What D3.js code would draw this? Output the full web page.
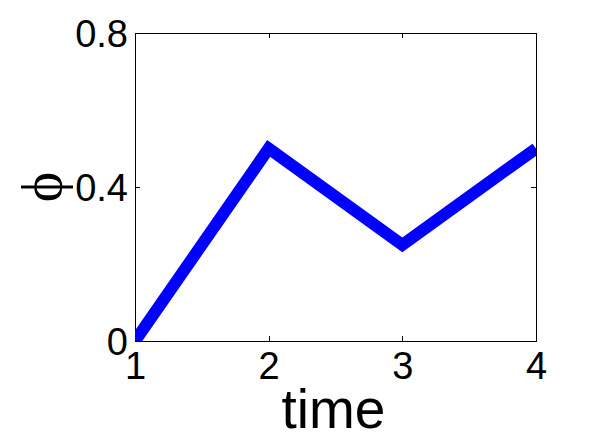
<!DOCTYPE html>
<html>
<head>
<meta charset="utf-8">
<script src="https://cdn.jsdelivr.net/npm/d3@7"></script>
<style>
  body { margin: 0; background: #fff; }
  svg { display: block; }
  .axis text { font-family: "Liberation Sans", Arial, sans-serif; font-size: 38px; fill: #000; }
  .axis path, .axis line { stroke: #000; stroke-width: 1; shape-rendering: crispEdges; }
</style>
</head>
<body>
<div id="chart"></div>
<script>
// data
const times = [1, 2, 3, 4]
const phi = [0, 0.5, 0.25, 0.5]
const xTicks = [1, 2, 3, 4]
const yTicks = [0, 0.4, 0.8]

const W = 592, H = 443
const margin = { top: 33, right: 56, bottom: 102, left: 135 }
const width = W - margin.left - margin.right
const height = H - margin.top - margin.bottom

const svg = d3.select('#chart').append('svg')
  .attr('width', W)
  .attr('height', H)

const g = svg.append('g')
  .attr('transform', 'translate(' + margin.left + ',' + margin.top + ')')

const x = d3.scaleLinear().domain([1, 4]).range([0, width])
const y = d3.scaleLinear().domain([0, 0.8]).range([height, 0])

// box with inward ticks on all sides (matlab style)
g.append('g')
  .attr('class', 'axis')
  .attr('transform', 'translate(0,' + height + ')')
  .call(d3.axisBottom(x).tickValues(xTicks).tickSize(-5).tickPadding(11).tickFormat(d3.format('d')))
  .call(a => a.selectAll('text').attr('dy', '0.71em'))

g.append('g')
  .attr('class', 'axis')
  .call(d3.axisTop(x).tickValues(xTicks).tickSize(-5).tickFormat(''))

g.append('g')
  .attr('class', 'axis')
  .call(d3.axisLeft(y).tickValues(yTicks).tickSize(-5).tickPadding(7).tickFormat(d => d === 0 ? '0' : d3.format('.1f')(d)))
  .call(a => a.selectAll('text').attr('dy', '0.36em'))

g.append('g')
  .attr('class', 'axis')
  .attr('transform', 'translate(' + width + ',0)')
  .call(d3.axisRight(y).tickValues(yTicks).tickSize(-5).tickFormat(''))

g.append('clipPath')
  .attr('id', 'clip')
  .append('rect')
  .attr('width', width)
  .attr('height', height)

const line = d3.line()
  .x((d, i) => x(times[i]))
  .y(d => y(d))

g.append('path')
  .datum(phi)
  .attr('clip-path', 'url(#clip)')
  .attr('d', line)
  .attr('fill', 'none')
  .attr('stroke', '#0000ff')
  .attr('stroke-width', 12)
  .attr('stroke-linejoin', 'miter')

// labels
svg.append('text')
  .attr('x', margin.left + width / 2 - 2)
  .attr('y', 428)
  .attr('text-anchor', 'middle')
  .style('font-family', '"Liberation Sans", Arial, sans-serif')
  .style('font-size', '55px')
  .text('time')

svg.append('text')
  .attr('transform', 'translate(61,' + (margin.top + y(0.4)) + ') rotate(-90)')
  .attr('text-anchor', 'middle')
  .style('font-family', '"Liberation Serif", serif')
  .style('font-size', '58px')
  .text('ϕ')
</script>
</body>
</html>
